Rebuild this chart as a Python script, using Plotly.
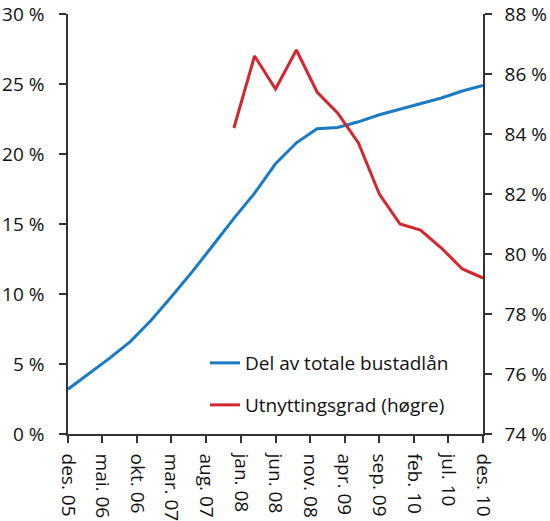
import plotly.graph_objects as go

# quarterly observations
dates_share = [
    "2005-12-01", "2006-03-01", "2006-06-01", "2006-09-01",
    "2006-12-01", "2007-03-01", "2007-06-01", "2007-09-01",
    "2007-12-01", "2008-03-01", "2008-06-01", "2008-09-01",
    "2008-12-01", "2009-03-01", "2009-06-01", "2009-09-01",
    "2009-12-01", "2010-03-01", "2010-06-01", "2010-09-01",
    "2010-12-01",
]
share = [3.2, 4.3, 5.4, 6.6, 8.1, 9.8, 11.6, 13.5, 15.4, 17.2, 19.3,
         20.8, 21.8, 21.9, 22.3, 22.8, 23.2, 23.6, 24.0, 24.5, 24.9]

dates_util = dates_share[8:]
util = [84.2, 86.6, 85.5, 86.8, 85.4, 84.7, 83.7, 82.0, 81.0, 80.8,
        80.2, 79.5, 79.2]

tick_dates = ["2005-12-01", "2006-05-01", "2006-10-01", "2007-03-01",
              "2007-08-01", "2008-01-01", "2008-06-01", "2008-11-01",
              "2009-04-01", "2009-09-01", "2010-02-01", "2010-07-01",
              "2010-12-01"]
tick_labels = ["des. 05", "mai. 06", "okt. 06", "mar. 07", "aug. 07",
               "jan. 08", "jun. 08", "nov. 08", "apr. 09", "sep. 09",
               "feb. 10", "jul. 10", "des. 10"]

BLUE = "#1a7ac4"
RED = "#d4262e"
AXIS = "#333333"
FONT = dict(family="Open Sans", size=19, color="#111111")

fig = go.Figure()
fig.add_trace(go.Scatter(
    x=dates_share, y=share, name="Del av totale bustadlån",
    mode="lines", line=dict(color=BLUE, width=3), showlegend=True,
))
fig.add_trace(go.Scatter(
    x=dates_util, y=util, name="Utnyttingsgrad (høgre)",
    mode="lines", line=dict(color=RED, width=3), yaxis="y2",
    legend="legend2", showlegend=True,
))

axis_common = dict(
    showline=True, linecolor=AXIS, linewidth=1.5,
    ticks="outside", ticklen=7, tickcolor=AXIS, tickwidth=1.5,
    showgrid=False, zeroline=False, tickfont=FONT, automargin=False,
)

legend_common = dict(
    xanchor="left", yanchor="middle", bgcolor="rgba(0,0,0,0)", font=FONT,
)

fig.update_layout(
    width=550, height=521,
    margin=dict(l=68, r=67, t=14, b=87),
    paper_bgcolor="white", plot_bgcolor="white",
    font=FONT, showlegend=True,
    xaxis=dict(
        range=["2005-12-01", "2010-12-01"],
        tickvals=tick_dates, ticktext=tick_labels, tickangle=90,
        ticklabelstandoff=7, **axis_common,
    ),
    yaxis=dict(range=[0, 30], dtick=5, ticksuffix=" %",
               ticklabelstandoff=11, **axis_common),
    yaxis2=dict(range=[74, 88], dtick=2, ticksuffix=" %", overlaying="y",
                side="right", ticklabelstandoff=9, **axis_common),
    legend=dict(x=0.33, y=0.169, **legend_common),
    legend2=dict(x=0.33, y=0.069, **legend_common),
)

# drop the default page margin so the figure sits at the window corner
fig.write_html("out.html", config={"displayModeBar": False},
               post_script="document.body.style.margin = '0';")
